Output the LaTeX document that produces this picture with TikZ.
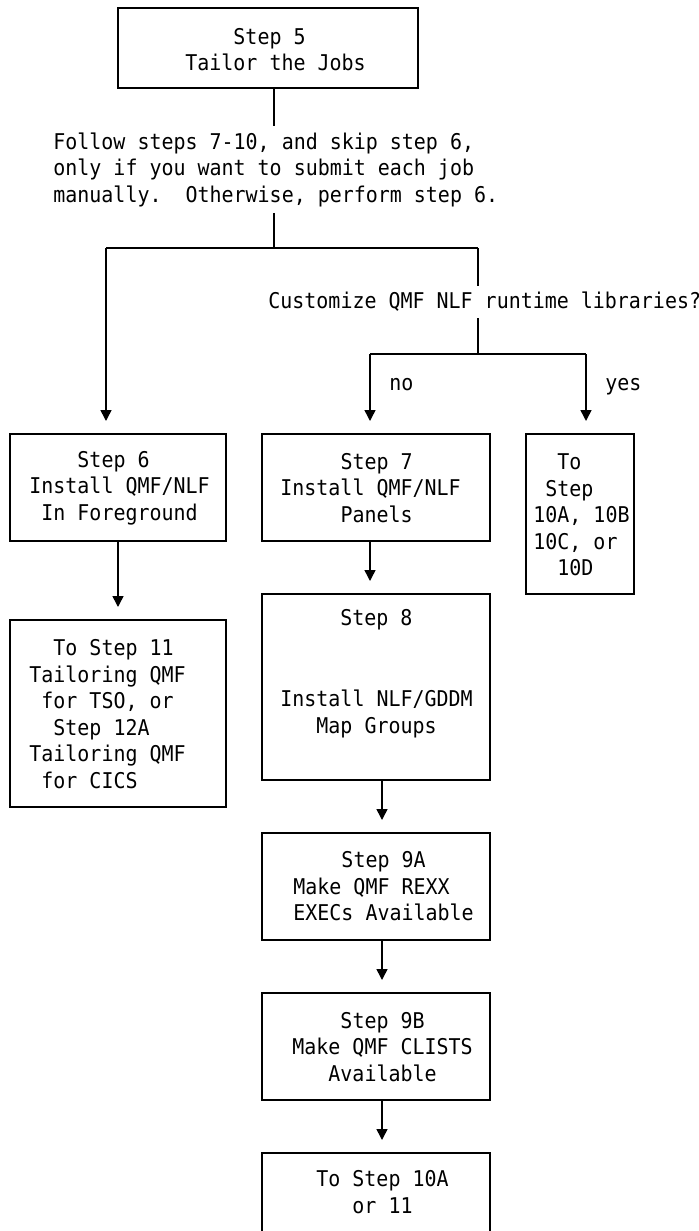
\documentclass[tikz,border=0pt]{standalone}
\usepackage{fontspec}
\setmonofont[FakeStretch=0.92]{DejaVu Sans Mono}
\usetikzlibrary{arrows.meta}
\begin{document}
\begin{tikzpicture}[x=0.5pt,y=-0.5pt,
  every node/.style={font=\ttfamily\fontsize{10.85}{13.25}\selectfont\frenchspacing},
  box/.style={draw, line width=0.75pt, inner sep=0pt, outer sep=0pt},
  txt/.style={anchor=west, align=left, inner xsep=0pt, inner ysep=3pt},
  lbl/.style={anchor=base west, inner sep=0pt},
  conn/.style={line width=0.75pt},
  arr/.style={conn, -{Triangle[length=5.5pt,width=5.5pt]}, shorten >=6.5pt}]
\useasboundingbox (0,0) rectangle (699,1231);

% boxes
\node[box, minimum width=150pt, minimum height=40pt]   (b5)   at (268,48) {};
\node[box, minimum width=108pt, minimum height=53.5pt] (b6)   at (118,487.5) {};
\node[box, minimum width=114pt, minimum height=53.5pt] (b7)   at (376,487.5) {};
\node[box, minimum width=54pt,  minimum height=80pt]   (bto)  at (580,514) {};
\node[box, minimum width=108pt, minimum height=93.5pt] (b11)  at (118,713.5) {};
\node[box, minimum width=114pt, minimum height=93pt]   (b8)   at (376,687) {};
\node[box, minimum width=114pt, minimum height=53.5pt] (b9a)  at (376,886.5) {};
\node[box, minimum width=114pt, minimum height=53.5pt] (b9b)  at (376,1046.5) {};
\node[box, minimum width=114pt, minimum height=43.5pt] (bfin) at (376,1196.5) {};

% texts
\node[txt] (t5) at (185,49.5) {\hphantom{xxxx}Step 5\\Tailor the Jobs};
\node[txt] (follow) at (53,169.5) {Follow steps 7-10, and skip step 6,\\only if you want to submit each job\\manually.\hphantom{x} Otherwise, perform step 6.};
\node[txt] (cust) at (268,302) {Customize QMF NLF runtime libraries?};
\node[lbl] (no) at (389,390) {no};
\node[lbl] (yes) at (605,390) {yes};
\node[txt] (t6) at (29,488) {\hphantom{xxxx}Step 6\\Install QMF/NLF\\\hphantom{x}In Foreground};
\node[txt] (t7) at (280,488) {\hphantom{xxxxx}Step 7\\Install QMF/NLF\\\hphantom{xxxxx}Panels};
\node[txt] (tto) at (533,515) {\hphantom{xx}To\\\hphantom{x}Step\\10A, 10B\\10C, or\\\hphantom{xx}10D};
\node[txt] (t11) at (29,714) {\hphantom{xx}To Step 11\\Tailoring QMF\\\hphantom{x}for TSO, or\\\hphantom{xx}Step 12A\\Tailoring QMF\\\hphantom{x}for CICS};
\node[txt] (t8a) at (340,620) {Step 8};
\node[txt] (t8b) at (280,714) {Install NLF/GDDM\\\hphantom{xxx}Map Groups};
\node[txt] (t9a) at (293,886.5) {\hphantom{xxxx}Step 9A\\Make QMF REXX\\EXECs Available};
\node[txt] (t9b) at (292,1047) {\hphantom{xxxx}Step 9B\\Make QMF CLISTS\\\hphantom{xxx}Available};
\node[txt] (tfin) at (316,1192) {To Step 10A\\\hphantom{xxx}or 11};

% junction coordinates
\coordinate (j1) at (274,248);
\coordinate (jl) at (106,248);
\coordinate (jr) at (478,248);
\coordinate (j2) at (478,354);
\coordinate (jno) at (370,354);
\coordinate (jyes) at (586,354);
\coordinate (xm) at (382,0);

% connectors
\draw[conn] (b5.south -| j1) -- (follow.north -| j1);
\draw[conn] (follow.south -| j1) -- (j1);
\draw[conn] (jl) -- (jr);
\draw[arr] (jl) -- (b6.north -| jl);
\draw[conn] (jr) -- (cust.north -| jr);
\draw[conn] (cust.south -| jr) -- (j2);
\draw[conn] (jno) -- (jyes);
\draw[arr] (jno) -- (b7.north -| jno);
\draw[arr] (jyes) -- (bto.north -| jyes);
\draw[arr] (b6.south) -- (b11.north);
\draw[arr] (b7.south -| jno) -- (b8.north -| jno);
\draw[arr] (b8.south -| xm) -- (b9a.north -| xm);
\draw[arr] (b9a.south -| xm) -- (b9b.north -| xm);
\draw[arr] (b9b.south -| xm) -- (bfin.north -| xm);
\end{tikzpicture}
\end{document}
